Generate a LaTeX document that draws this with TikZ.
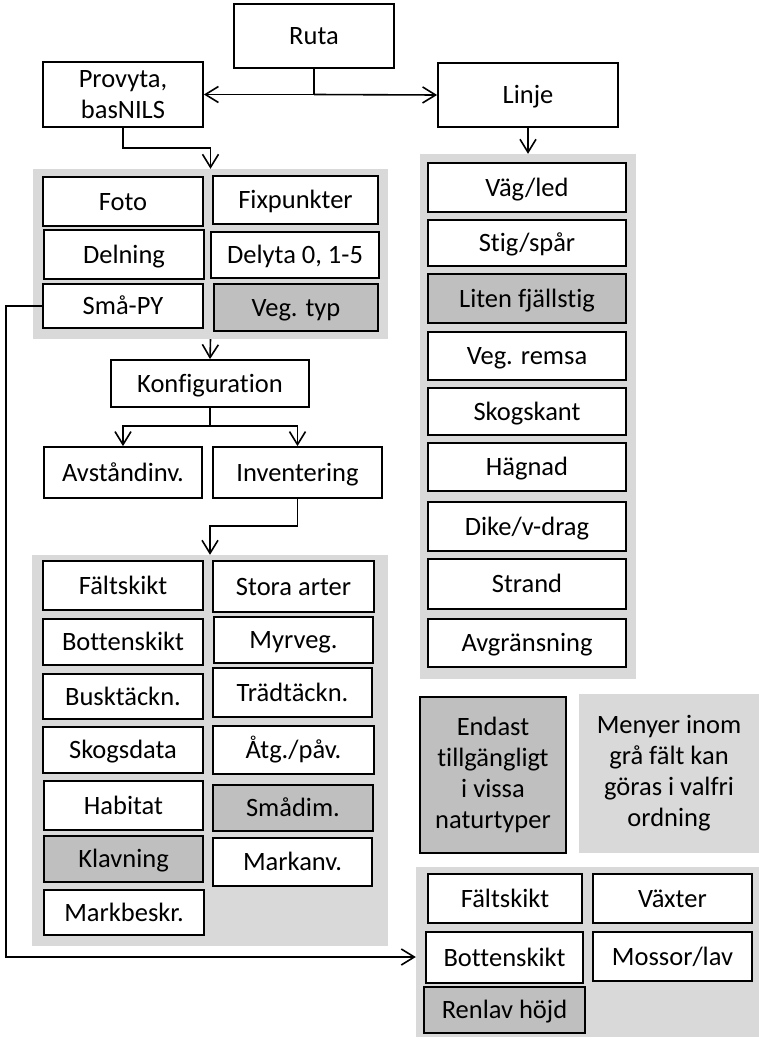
\documentclass[tikz,border=0pt]{standalone}
\usepackage{fontspec}
\setmainfont[Ligatures=NoCommon]{Carlito}
\usetikzlibrary{arrows.meta}
\definecolor{panelgray}{HTML}{D9D9D9}
\definecolor{darkgray}{HTML}{BFBFBF}
\tikzset{
  box/.style={inner sep=0pt, draw=black, line width=1.8pt, fill=white, text height=23pt, text depth=6pt},
  dbox/.style={box, fill=darkgray},
  mbox/.style={inner sep=0pt, align=center, draw=black, line width=1.8pt, fill=white},
  mdbox/.style={mbox, fill=darkgray},
  panel/.style={inner sep=0pt, align=center, fill=panelgray, draw=none},
  arr/.style={line width=1.6pt, -{Straight Barb[length=13pt,width=16pt,line width=1.6pt]}},
  ln/.style={line width=1.6pt}
}
\newcommand{\bx}[7]{\node[#7, minimum width={#4-#2}, minimum height={#5-#3}] (#1) at ({(#2+#4)/2},{(#3+#5)/2}) {#6};}
\begin{document}
\begin{tikzpicture}[x=1pt,y=-1pt,font=\fontsize{26.5}{31}\selectfont]
\useasboundingbox (0,0) rectangle (759,1041);
% panels
\bx{p1}{33}{169}{388}{339}{}{panel}
\bx{p2}{32}{555}{388}{946}{}{panel}
\bx{p3}{420}{154}{636}{679}{}{panel}
\bx{p4}{416}{867}{759}{1037}{}{panel}
% top
\bx{ruta}{234}{4}{394}{68}{Ruta}{box}
\bx{prov}{43}{62}{203}{127}{Provyta,\\basNILS}{mbox}
\bx{linje}{438}{63}{618}{127}{Linje}{box}
% panel 1
\bx{foto}{43}{177}{203}{226}{Foto}{box}
\bx{fix}{213}{176}{378}{224}{Fixpunkter}{box}
\bx{deln}{44}{230}{204}{279}{Delning}{box}
\bx{delyta}{211}{232}{379}{278}{Delyta 0, 1-5}{box}
\bx{smapy}{43}{284}{203}{328}{Små-PY}{box}
\bx{vegtyp}{214}{284}{378}{331}{Veg. typ}{dbox}
% middle
\bx{konf}{111}{360}{309}{407}{Konfiguration}{box}
\bx{avst}{44}{447}{202}{498}{Avståndinv.}{box}
\bx{inv}{213}{447}{382}{498}{Inventering}{box}
% panel 2
\bx{falt}{43}{561}{203}{610}{Fältskikt}{box}
\bx{stora}{213}{561}{374}{612}{Stora arter}{box}
\bx{botten}{43}{619}{203}{665}{Bottenskikt}{box}
\bx{myr}{214}{617}{373}{663}{Myrveg.}{box}
\bx{busk}{43}{674}{203}{719}{Busktäckn.}{box}
\bx{trad}{213}{668}{372}{717}{Trädtäckn.}{box}
\bx{skog}{43}{727}{203}{773}{Skogsdata}{box}
\bx{atg}{213}{726}{374}{774}{Åtg./påv.}{box}
\bx{hab}{44}{781}{203}{830}{Habitat}{box}
\bx{smadim}{213}{785}{373}{831}{Smådim.}{dbox}
\bx{klav}{44}{836}{203}{882}{Klavning}{dbox}
\bx{markanv}{213}{838}{372}{886}{Markanv.}{box}
\bx{markb}{44}{890}{204}{935}{Markbeskr.}{box}
% panel 3
\bx{vag}{428}{163}{626}{212}{Väg/led}{box}
\bx{stig}{428}{220}{626}{266}{Stig/spår}{box}
\bx{liten}{428}{274}{626}{323}{Liten fjällstig}{dbox}
\bx{remsa}{428}{332}{626}{380}{Veg. remsa}{box}
\bx{skant}{428}{388}{626}{435}{Skogskant}{box}
\bx{hagn}{428}{443}{626}{491}{Hägnad}{box}
\bx{dike}{428}{502}{626}{551}{Dike/v-drag}{box}
\bx{strand}{428}{559}{626}{609}{Strand}{box}
\bx{avgr}{428}{619}{626}{667}{Avgränsning}{box}
% legend
\bx{endast}{420}{697}{566}{853}{Endast\\tillgängligt\\i vissa\\naturtyper}{mdbox}
\bx{menyer}{579}{694}{759}{853}{Menyer inom\\grå fält kan\\göras i valfri\\ordning}{panel}
% panel 4
\bx{falt2}{428}{874}{582}{923}{Fältskikt}{box}
\bx{vaxt}{593}{874}{752}{923}{Växter}{box}
\bx{botten2}{426}{932}{583}{983}{Bottenskikt}{box}
\bx{moss}{593}{932}{752}{981}{Mossor/lav}{box}
\bx{renlav}{424}{987}{585}{1033}{Renlav höjd}{dbox}
% connectors
\draw[ln] (ruta.south) -- (ruta.south |- prov.east);
\draw[arr] (ruta.south |- prov.east) -- (prov.east);
\draw[arr] (ruta.south |- prov.east) -- (linje.west);
\draw[arr] (prov.south) -- (prov.south |- 0,148) -| (p1.north);
\draw[arr] (linje.south) -- (p3.north);
\draw[arr] (p1.south) -- (konf.north);
\coordinate (kb) at (konf.south |- 0,426);
\draw[ln] (konf.south) -- (kb);
\draw[arr] (kb) -| (avst.north);
\draw[arr] (kb) -| (inv.north);
\draw[arr] (inv.south) -- (inv.south |- 0,526) -| (p2.north);
\coordinate (c1) at (6,957);
\draw[arr] (smapy.west) -| (c1) -- (p4.west |- c1);
\end{tikzpicture}
\end{document}
